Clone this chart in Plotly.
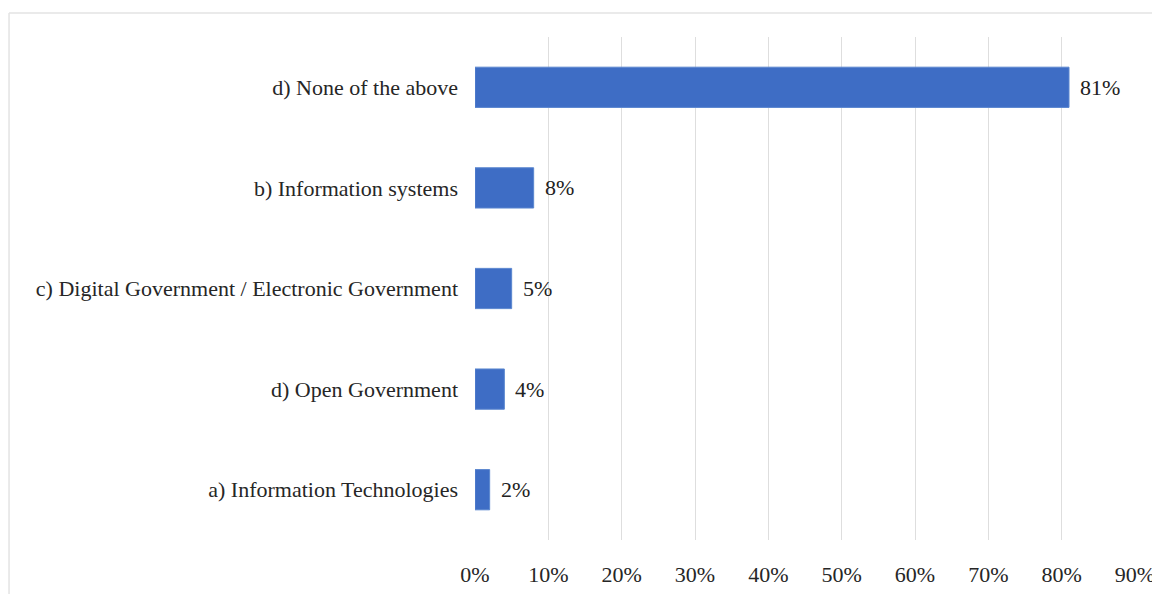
import plotly.graph_objects as go

categories = [
    "a) Information Technologies",
    "d) Open Government",
    "c) Digital Government / Electronic Government",
    "b) Information systems",
    "d) None of the above",
]
values = [2, 4, 5, 8, 81]
labels = [f"{v}%" for v in values]
tick_vals = [0, 10, 20, 30, 40, 50, 60, 70, 80, 90]
tick_text = [f"{t}%" for t in tick_vals]

FONT = "Liberation Serif, Times New Roman, serif"

fig = go.Figure(
    go.Bar(
        x=values,
        y=categories,
        orientation="h",
        cliponaxis=False,
        marker=dict(color="#3e6dc5", line=dict(color="#5a86cf", width=1)),
        hoverinfo="x+y",
    )
)

annotations = [
    dict(
        x=v, y=c, xref="x", yref="y", text=t, showarrow=False,
        xanchor="left", yanchor="middle", xshift=9,
        font=dict(family=FONT, size=22, color="#222222"),
    )
    for v, c, t in zip(values, categories, labels)
]

fig.update_layout(
    width=1152,
    height=586,
    margin=dict(l=467, r=25, t=29, b=54),
    paper_bgcolor="white",
    plot_bgcolor="white",
    bargap=0.6,
    showlegend=False,
    font=dict(family=FONT, size=22, color="#262626"),
    annotations=annotations,
    shapes=[
        dict(
            type="line", xref="paper", yref="paper",
            x0=-0.706, x1=1.2, y0=1.0477, y1=1.0477,
            line=dict(color="#e3e3e3", width=1.5),
        ),
        dict(
            type="line", xref="paper", yref="paper",
            x0=-0.706, x1=-0.706, y0=-0.2, y1=1.0477,
            line=dict(color="#e3e3e3", width=1.5),
        ),
    ],
)

fig.update_xaxes(
    range=[0, 90],
    tickvals=tick_vals,
    ticktext=tick_text,
    automargin=False,
    showgrid=True,
    gridcolor="#dedede",
    gridwidth=1,
    zeroline=False,
    showline=False,
    ticklabelstandoff=19,
    tickfont=dict(family=FONT, size=22, color="#262626"),
)
fig.update_yaxes(
    automargin=False,
    showgrid=False,
    zeroline=False,
    showline=False,
    ticklabelstandoff=16,
    tickfont=dict(family=FONT, size=22, color="#262626"),
)

fig.write_html("out.html")
